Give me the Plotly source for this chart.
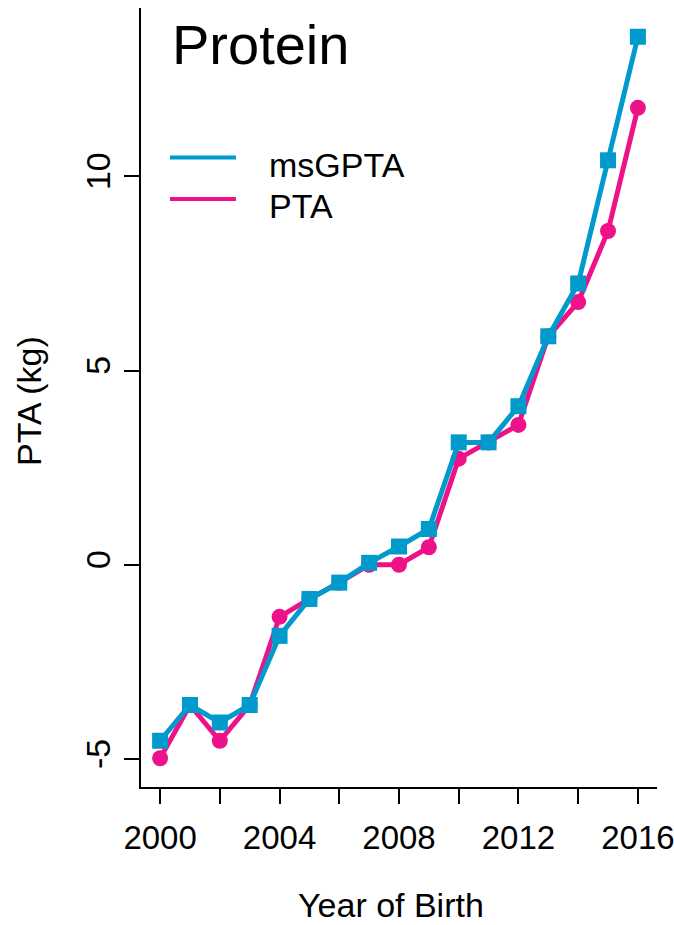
import plotly.graph_objects as go

years = list(range(2000, 2017))
msgpta = [-4.53, -3.61, -4.06, -3.61, -1.83, -0.88, -0.46, 0.05, 0.47, 0.92,
          3.15, 3.15, 4.08, 5.88, 7.24, 10.41, 13.59]
pta = [-4.98, -3.61, -4.53, -3.61, -1.34, -0.88, -0.46, 0.0, 0.0, 0.45,
       2.73, 3.15, 3.60, 5.88, 6.76, 8.59, 11.76]
x_ticks = list(range(2000, 2017, 2))
x_ticktext = ["2000", "", "2004", "", "2008", "", "2012", "", "2016"]
y_ticks = [-5, 0, 5, 10]
y_ticktext = ["-5", "0", "5", "10"]
series_names = ["msGPTA", "PTA"]

BLUE = "#009ACD"
PINK = "#EE1289"
FONT = "Liberation Sans, Arial, Helvetica, sans-serif"

W, H = 674, 925
L, R, T, B = 141, 17, 8, 138
PX0, PY0, PW, PH = L, T, W - L - R, H - T - B  # plot area in page pixels


def px(x):
    return (x - PX0) / PW


def py(y):
    return 1 - (y - PY0) / PH


fig = go.Figure()
fig.add_trace(go.Scatter(x=years, y=pta, mode="lines+markers", showlegend=False,
                         name=series_names[1],
                         line=dict(color=PINK, width=5),
                         marker=dict(symbol="circle", size=16, color=PINK)))
fig.add_trace(go.Scatter(x=years, y=msgpta, mode="lines+markers", showlegend=False,
                         name=series_names[0],
                         line=dict(color=BLUE, width=5),
                         marker=dict(symbol="square", size=16, color=BLUE)))

shapes = []
annotations = []
for name, color, ly, ty in [(series_names[0], BLUE, 157.5, 165),
                            (series_names[1], PINK, 199, 206)]:
    shapes.append(dict(type="line", xref="paper", yref="paper",
                       x0=px(170), x1=px(236), y0=py(ly), y1=py(ly),
                       line=dict(color=color, width=4)))
    annotations.append(dict(text=name, xref="paper", yref="paper",
                            x=px(267), y=py(ty), xanchor="left", yanchor="middle",
                            showarrow=False, font=dict(size=34)))

annotations += [
    dict(text="Protein", xref="paper", yref="paper",
         x=px(170), y=py(45), xanchor="left", yanchor="middle", showarrow=False,
         font=dict(size=56)),
    dict(text="Year of Birth", xref="paper", yref="paper",
         x=px(391), y=py(905), xanchor="center", yanchor="middle", showarrow=False,
         font=dict(size=34)),
    dict(text="PTA (kg)", xref="paper", yref="paper",
         x=px(29), y=py(401), xanchor="center", yanchor="middle", showarrow=False,
         textangle=-90, font=dict(size=34)),
]

fig.update_layout(
    width=W, height=H,
    margin=dict(l=L, r=R, t=T, b=B, pad=0, autoexpand=False),
    paper_bgcolor="white", plot_bgcolor="white",
    font=dict(family=FONT, size=34, color="black"),
    showlegend=False,
    xaxis=dict(range=[1999.36, 2016.64], tickvals=x_ticks, ticktext=x_ticktext,
               showgrid=False, zeroline=False, showline=True, linecolor="black",
               linewidth=1.5, ticks="outside", ticklen=15, tickwidth=1.5,
               tickcolor="black", tickfont=dict(size=33), ticklabelstandoff=6,
               ticklabeloverflow="allow", automargin=False),
    yaxis=dict(range=[-5.72, 14.33], tickvals=y_ticks, ticktext=y_ticktext,
               showgrid=False, zeroline=False, showline=True, linecolor="black",
               linewidth=1.5, ticks="outside", ticklen=15, tickwidth=1.5,
               tickcolor="black", tickfont=dict(size=34), tickangle=-90,
               ticklabelstandoff=1, automargin=False),
    shapes=shapes,
    annotations=annotations,
)

fig.write_html(
    "out.html",
    config={"displayModeBar": False},
    post_script="document.body.style.margin='0';document.body.style.overflow='hidden';",
)
